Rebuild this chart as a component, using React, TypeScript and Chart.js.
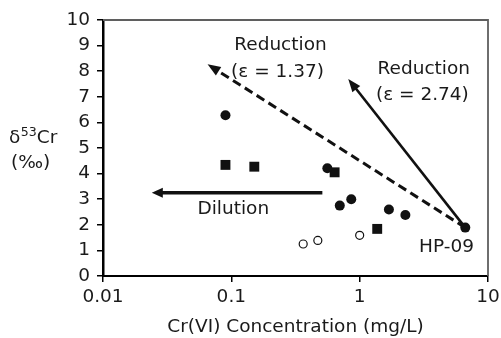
import React, { useEffect, useRef } from "react";
import { Chart, registerables } from "chart.js";

Chart.register(...registerables);

// Data
const filledX = [0.09, 0.56, 0.70, 0.86, 1.69, 2.27, 6.65];
const filledY = [6.28, 4.21, 2.75, 3.0, 2.6, 2.38, 1.89];
const squareX = [0.09, 0.151, 0.638, 1.37];
const squareY = [4.34, 4.27, 4.05, 1.84];
const openX = [0.363, 0.472, 1.0];
const openY = [1.25, 1.39, 1.59];

const xTicks = [0.01, 0.1, 1, 10];
const yTicks = [0, 1, 2, 3, 4, 5, 6, 7, 8, 9, 10];

// Arrows (data coordinates): [fromX, fromY, toX, toY]
const dashedArrow = [6.65, 1.89, 0.0653, 8.27];
const solidArrow = [6.65, 1.89, 0.815, 7.7];
const dilutionArrow = [0.512, 3.25, 0.024, 3.25];

// Annotation labels (data coordinates)
const labelTexts = ["Reduction", "(ε = 1.37)", "Reduction", "(ε = 2.74)", "Dilution", "HP-09"];
const labelX = [0.2415, 0.229, 3.16, 3.08, 0.1036, 4.75];
const labelY = [9.02, 7.97, 8.07, 7.07, 2.6, 1.11];

const FONT = "'DejaVu Sans', 'Liberation Sans', Arial, sans-serif";
const FSIZE = 18.5;
const TXT = "#1a1a1a";

const pts = (xs: number[], ys: number[]) => xs.map((x, i) => ({ x, y: ys[i] }));

function drawArrow(ctx: CanvasRenderingContext2D, x1: number, y1: number, x2: number, y2: number, lw: number, dash: number[], headLen: number, headW: number) {
  const ang = Math.atan2(y2 - y1, x2 - x1);
  const bx = x2 - Math.cos(ang) * headLen;
  const by = y2 - Math.sin(ang) * headLen;
  ctx.save();
  ctx.strokeStyle = "#111";
  ctx.fillStyle = "#111";
  ctx.lineWidth = lw;
  ctx.setLineDash(dash);
  ctx.beginPath();
  ctx.moveTo(x1, y1);
  ctx.lineTo(bx + Math.cos(ang) * 2, by + Math.sin(ang) * 2);
  ctx.stroke();
  ctx.setLineDash([]);
  const px = -Math.sin(ang) * headW / 2;
  const py = Math.cos(ang) * headW / 2;
  ctx.beginPath();
  ctx.moveTo(x2, y2);
  ctx.lineTo(bx + px, by + py);
  ctx.lineTo(bx - px, by - py);
  ctx.closePath();
  ctx.fill();
  ctx.restore();
}

const overlay = {
  id: "overlay",
  beforeDatasetsDraw(chart: any) {
    const { ctx, scales, chartArea } = chart;
    const xs = scales.x;
    const ys = scales.y;
    // frame top & right
    ctx.save();
    ctx.strokeStyle = "#5f5f5f";
    ctx.lineWidth = 1.8;
    ctx.beginPath();
    ctx.moveTo(chartArea.left, chartArea.top);
    ctx.lineTo(chartArea.right, chartArea.top);
    ctx.lineTo(chartArea.right, chartArea.bottom);
    ctx.stroke();
    ctx.restore();

    const P = (a: number[]) => [xs.getPixelForValue(a[0]), ys.getPixelForValue(a[1]), xs.getPixelForValue(a[2]), ys.getPixelForValue(a[3])];
    const d = P(dashedArrow);
    drawArrow(ctx, d[0], d[1], d[2], d[3], 3, [9, 5], 13, 10);
    const s = P(solidArrow);
    drawArrow(ctx, s[0], s[1], s[2], s[3], 2.6, [], 13, 10);
    const dl = P(dilutionArrow);
    drawArrow(ctx, dl[0], dl[1], dl[2], dl[3], 3.6, [], 11, 10);

    ctx.save();
    ctx.fillStyle = TXT;
    ctx.font = `${FSIZE}px ${FONT}`;
    ctx.textAlign = "center";
    ctx.textBaseline = "middle";
    labelTexts.forEach((t, i) => {
      ctx.fillText(t, xs.getPixelForValue(labelX[i]), ys.getPixelForValue(labelY[i]));
    });

    // y axis title
    ctx.textAlign = "left";
    ctx.textBaseline = "alphabetic";
    let x = 9;
    const base = 143;
    ctx.fillText("δ", x, base);
    x += ctx.measureText("δ").width + 0.5;
    ctx.font = `${FSIZE * 0.68}px ${FONT}`;
    ctx.fillText("53", x, base - 7);
    x += ctx.measureText("53").width;
    ctx.font = `${FSIZE}px ${FONT}`;
    ctx.fillText("Cr", x, base);
    ctx.fillText("(‰)", 11, 168);
    ctx.restore();
  },
};

export default function App() {
  const ref = useRef<HTMLCanvasElement | null>(null);
  useEffect(() => {
    if (!ref.current) return;
    const font = { family: FONT, size: FSIZE };
    const chart = new Chart(ref.current, {
      type: "scatter",
      data: {
        datasets: [
          {
            data: pts(filledX, filledY),
            pointStyle: "circle",
            pointRadius: 5,
            backgroundColor: "#111",
            borderColor: "#111",
            borderWidth: 0,
          },
          {
            data: pts(squareX, squareY),
            pointStyle: "rect",
            pointRadius: 7,
            backgroundColor: "#111",
            borderColor: "#111",
            borderWidth: 0,
          },
          {
            data: pts(openX, openY),
            pointStyle: "circle",
            pointRadius: 4,
            backgroundColor: "#fff",
            borderColor: "#111",
            borderWidth: 1.2,
          },
        ],
      },
      options: {
        animation: false,
        responsive: false,
        events: [],
        layout: { padding: { top: 20, right: 13, left: 0, bottom: 0 } },
        plugins: { legend: { display: false }, tooltip: { enabled: false } },
        scales: {
          x: {
            type: "logarithmic",
            min: 0.01,
            max: 10,
            afterBuildTicks: (s: any) => {
              s.ticks = xTicks.map((v) => ({ value: v }));
            },
            afterFit: (s: any) => {
              s.height = 62;
              s.paddingRight = 0;
              s.paddingLeft = 0;
            },
            ticks: {
              callback: (v: any) => String(Number(v)),
              font,
              color: TXT,
              padding: 4,
              maxRotation: 0,
              autoSkip: false,
            },
            grid: { drawOnChartArea: false, drawTicks: true, tickLength: 6, color: "#000", lineWidth: 1.5 },
            border: { color: "#000", width: 2 },
            title: {
              display: true,
              text: "Cr(VI) Concentration (mg/L)",
              font,
              color: TXT,
              padding: { top: 0, bottom: 0 },
            },
          },
          y: {
            min: 0,
            max: 10,
            afterBuildTicks: (s: any) => {
              s.ticks = yTicks.map((v) => ({ value: v }));
            },
            afterFit: (s: any) => {
              s.width = 103;
              s.paddingTop = 0;
              s.paddingBottom = 0;
            },
            ticks: { font, color: TXT, padding: 7, callback: (v: any) => String(v) },
            grid: { drawOnChartArea: false, drawTicks: true, tickLength: 6, color: "#000", lineWidth: 1.5 },
            border: { color: "#000", width: 2.5 },
          },
        },
      },
      plugins: [overlay],
    } as any);
    return () => chart.destroy();
  }, []);
  return (
    <div style={{ position: "fixed", left: 0, top: 0, width: 501, height: 338, background: "#fff" }}>
      <canvas ref={ref} width={501} height={338} style={{ display: "block" }} />
    </div>
  );
}
